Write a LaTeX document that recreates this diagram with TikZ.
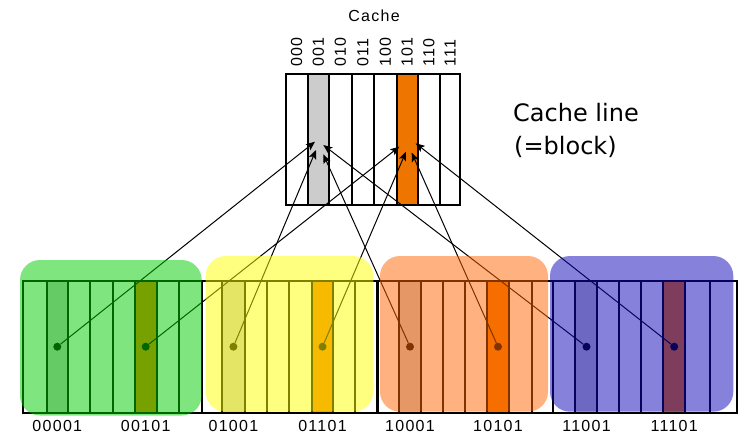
\documentclass[tikz,border=0pt]{standalone}
\usepackage{fontspec}
\setmainfont{Liberation Sans}
\newfontfamily\labfont[LetterSpace=8]{Liberation Sans}
\newfontfamily\bigfont{DejaVu Sans}
\usetikzlibrary{arrows.meta}
\definecolor{cgray}{RGB}{204,204,204}
\definecolor{corange}{RGB}{238,118,0}
\definecolor{tgreen}{RGB}{0,205,0}
\definecolor{tyellow}{RGB}{255,255,0}
\definecolor{torange}{RGB}{255,102,0}
\definecolor{tblue}{RGB}{15,5,185}
\begin{document}
\begin{tikzpicture}[x=1pt,y=-1pt,
  gridline/.style={line width=2.2pt, line cap=rect},
  tintbox/.style={fill opacity=0.5, rounded corners=20pt},
  memdot/.style={circle, fill=black, inner sep=0pt, minimum size=8pt},
  maplink/.style={line width=1pt, -{Stealth[length=9pt,width=7.5pt,inset=2pt]}},
  lab/.style={font=\labfont\fontsize{16}{16}\selectfont, inner sep=0pt},
  biglab/.style={font=\bigfont\fontsize{24}{24}\selectfont, inner sep=0pt, anchor=base west},
]
\fill[white] (0,0) rectangle (739,442);
\useasboundingbox (0,0) rectangle (739,442);

% ---------- memory highlighted columns ----------
\foreach \a/\b in {46.7/68.3, 221.7/245, 399.3/420.7, 575/596.7}
  \fill[cgray] (\a,281) rectangle (\b,412.7);
\foreach \a/\b in {135/156.7, 311.7/333.3, 486.7/509.3, 663.3/685}
  \fill[corange] (\a,281) rectangle (\b,412.7);
% memory grid
\foreach \x in {46.7,68.3,90,113.3,135,156.7,179.3,201.7,221.7,245,266.7,289.3,311.7,333.3,355,377.5,399.3,420.7,443.3,465,486.7,509.3,531.7,552.7,575,596.7,619.3,640.7,663.3,685,710}
  \draw[gridline] (\x,281) -- (\x,412.7);
\draw[gridline] (23.3,281) rectangle (736.7,412.7);

% ---------- cache ----------
\fill[cgray] (307.7,74) rectangle (329,205);
\fill[corange] (396.7,74) rectangle (417.7,205);
\foreach \x in {307.7,329,351.7,374,396.7,417.7,440}
  \draw[gridline] (\x,74) -- (\x,205);
\draw[gridline] (285.7,74) rectangle (460,205);

\node[lab, anchor=base] (cachetitle) at (374,21.7) {Cache};
\foreach \x/\t in {296.7/000, 318.3/001, 340.3/010, 362.8/011, 385.3/100, 407.2/101, 428.8/110, 450/111}
  \node[lab, rotate=90, anchor=west] (c\t) at (\x,67) {\t};

\node[biglab] (cl1) at (513,121.7) {Cache line};
\node[biglab] (cl2) at (514,154) {(=block)};

% ---------- targets in cache ----------
\coordinate (t001a) at (315,141.7);
\coordinate (t001b) at (316,150);
\coordinate (t001c) at (323.3,145);
\coordinate (t001d) at (323.3,154.3);
\coordinate (t101a) at (399.3,146.7);
\coordinate (t101b) at (406,151.7);
\coordinate (t101c) at (411.7,152.7);
\coordinate (t101d) at (415.7,143.3);

% ---------- dots ----------
\foreach \x/\n in {57.3/00001, 145.7/00101, 233.4/01001, 322.5/01101, 410/10001, 498/10101, 586.5/11001, 674.2/11101}
  \node[memdot] (m\n) at (\x,346.7) {};

\draw[maplink] (m00001) -- (t001a);
\draw[maplink] (m01001) -- (t001b);
\draw[maplink] (m11001) -- (t001c);
\draw[maplink] (m10001) -- (t001d);
\draw[maplink] (m00101) -- (t101a);
\draw[maplink] (m01101) -- (t101b);
\draw[maplink] (m10101) -- (t101c);
\draw[maplink] (m11101) -- (t101d);

% ---------- tinted blocks ----------
\fill[tintbox, tgreen] (20,260) rectangle (201.7,415.5);
\fill[tintbox, tyellow] (205.7,256) rectangle (373.3,411.7);
\fill[tintbox, torange] (380,256) rectangle (548,411.7);
\fill[tintbox, tblue] (550,256) rectangle (733.3,411.7);

% ---------- address labels ----------
\foreach \n in {00001,00101,01001,01101,10001,10101,11001,11101}
  \node[lab, anchor=base] (l\n) at (m\n |- 0,431.7) {\n};
\end{tikzpicture}
\end{document}
